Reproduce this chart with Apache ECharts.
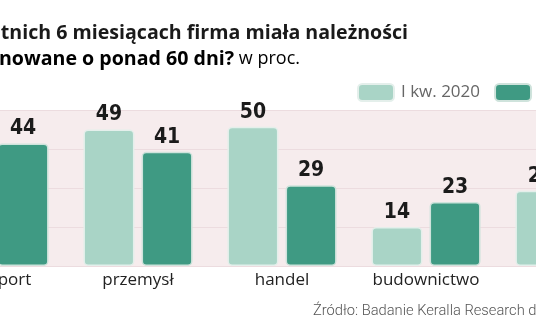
<!DOCTYPE html>
<html>
<head>
<meta charset="utf-8">
<script src="https://cdn.jsdelivr.net/npm/echarts@6/dist/echarts.min.js"></script>
<style>
html,body{margin:0;padding:0;background:#fff;overflow:hidden;width:536px;height:332px;}
#wrap{position:relative;width:536px;height:332px;overflow:hidden;}
#c{position:absolute;left:-200px;top:0;width:1000px;height:332px;}
</style>
</head>
<body>
<div id="wrap"><div id="c"></div></div>
<script>
var categories = ['transport', 'przemysł', 'handel', 'budownictwo', 'usługi'];
var seriesNames = ['I kw. 2020', 'I kw. 2021'];
var values2020 = [48, 49, 50, 14, 27];
var values2021 = [44, 41, 29, 23, 20];
var yTicks = [0, 14, 28, 42, 56];
var titleLine1 = 'Czy w ostatnich 6 miesiącach firma miała należności';
var titleLine2Bold = 'przeterminowane o ponad 60 dni?';
var titleLine2Normal = ' w proc.';
var sourceText = 'Źródło: Badanie Keralla Research dla „Rzeczpospolitej”';

var OFF = 200; // chart canvas is shifted left by this many px (cropped view)
var LIGHT = '#a9d4c6';
var DARK = '#3f9a83';
var labelStyle = {
  show: true, position: 'top', distance: 4,
  fontFamily: '"Liberation Sans Narrow", "DejaVu Sans Condensed", sans-serif',
  fontWeight: 'bold', fontSize: 21, color: '#1b1b1b'
};

var chart = echarts.init(document.getElementById('c'), null, {renderer: 'canvas'});
chart.setOption({
  animation: false,
  backgroundColor: '#ffffff',
  grid: {
    left: OFF - 78, width: 720, top: 110, bottom: 66,
    show: true, backgroundColor: '#f6eced', borderWidth: 0
  },
  legend: {
    left: OFF + 357, top: 83, padding: 0, orient: 'horizontal',
    itemWidth: 36, itemHeight: 17, itemGap: 14,
    icon: 'roundRect',
    textStyle: {fontFamily: '"Open Sans"', fontSize: 17, color: '#666', padding: [0, 0, 0, 2]},
    data: seriesNames
  },
  xAxis: {
    type: 'category', data: categories,
    axisLine: {show: false}, axisTick: {show: false},
    axisLabel: {fontFamily: '"Open Sans"', fontSize: 17, color: '#222', margin: 6}
  },
  yAxis: {
    type: 'value', min: yTicks[0], max: yTicks[yTicks.length - 1], interval: yTicks[1] - yTicks[0],
    axisLabel: {show: false}, axisLine: {show: false}, axisTick: {show: false},
    splitLine: {lineStyle: {color: '#ecdcdf', width: 1}}
  },
  graphic: [
    {type: 'text', x: OFF + 408, y: 33, style: {
      text: titleLine1, align: 'right', verticalAlign: 'middle',
      font: 'bold 19.6px "Open Sans"', fill: '#1a1a1a'}},
    {type: 'text', x: OFF + 300, y: 59, style: {
      text: '{b|' + titleLine2Bold + '}{n|' + titleLine2Normal + '}',
      align: 'right', verticalAlign: 'middle',
      rich: {
        b: {fontFamily: '"Open Sans"', fontWeight: 'bold', fontSize: 19.6, color: '#1a1a1a'},
        n: {fontFamily: '"Open Sans"', fontWeight: 'normal', fontSize: 18, color: '#555'}
      }}},
    {type: 'text', x: OFF + 313, y: 311, style: {
      text: sourceText, align: 'left', verticalAlign: 'middle',
      font: '300 14.7px Roboto', fill: '#555'}}
  ],
  series: [
    {name: seriesNames[0], type: 'bar', data: values2020, barWidth: 51, barGap: '14%',
     itemStyle: {color: LIGHT, borderColor: '#e4efeb', borderWidth: 1.5, borderRadius: 4},
     label: labelStyle},
    {name: seriesNames[1], type: 'bar', data: values2021, barWidth: 51,
     itemStyle: {color: DARK, borderColor: '#cfe3dc', borderWidth: 1.5, borderRadius: 4},
     label: labelStyle}
  ]
});
</script>
</body>
</html>
